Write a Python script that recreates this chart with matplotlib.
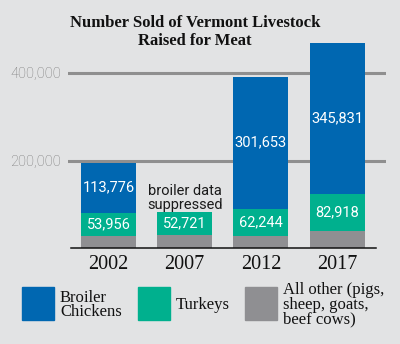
import matplotlib.pyplot as plt
import matplotlib.patches as mpatches
import numpy as np

years = ['2002', '2007', '2012', '2017']
broiler = [113776, 0, 301653, 345831]      # 2007 suppressed
turkeys = [53956, 52721, 62244, 82918]
other = [27000, 30000, 28000, 40000]
yticks = [200000, 400000]

bg = '#e2e3e4'
c_blue = '#0067b1'
c_green = '#00b08e'
c_gray = '#8f8f92'

fig = plt.figure(figsize=(4, 3.44), dpi=100, facecolor=bg)
ax = fig.add_axes([68 / 400, (344 - 248) / 344, (386 - 68) / 400, 210 / 344])
ax.set_facecolor(bg)

x = np.arange(len(years))
w = 0.72
other = np.array(other)
turkeys = np.array(turkeys)
broiler = np.array(broiler)

for yv in yticks:
    ax.axhline(yv, color='#8f8f8f', lw=2.2, zorder=0)
ax.plot([-0.49, 3.51], [0, 0], color='#111111', lw=1.1, zorder=3, clip_on=False)

ax.bar(x, other, w, color=c_gray, zorder=2)
ax.bar(x, turkeys, w, bottom=other, color=c_green, zorder=2)
ax.bar(x, broiler, w, bottom=other + turkeys, color=c_blue, zorder=2)

for i in range(len(years)):
    ax.text(x[i], other[i] + turkeys[i] / 2, f'{turkeys[i]:,}', ha='center', va='center',
            color='white', fontsize=10.5, family='Roboto', zorder=4)
    if broiler[i] > 0:
        ax.text(x[i], other[i] + turkeys[i] + broiler[i] / 2, f'{broiler[i]:,}', ha='center',
                va='center', color='white', fontsize=10.5, family='Roboto', zorder=4)
ax.text(x[1], other[1] + turkeys[1] + 32000, 'broiler data\nsuppressed', ha='center',
        va='center', color='#1a1a1a', fontsize=10.5, family='Roboto', linespacing=1.0)

ax.set_xlim(-0.53, 3.64)
ax.set_ylim(0, 480000)
ax.set_xticks(x)
ax.set_xticklabels(years, family='Liberation Serif', fontsize=14.5, color='#111111')
ax.set_yticks(yticks)
ax.set_yticklabels([f'{v:,}' for v in yticks], family='Roboto', fontsize=10.5,
                   fontweight='light', color='#7a7a7a')
ax.tick_params(length=0, pad=5)
ax.tick_params(axis='x', pad=5)
for s in ax.spines.values():
    s.set_visible(False)

fig.text(0.4875, 1 - 32 / 344, 'Number Sold of Vermont Livestock\nRaised for Meat', ha='center',
         va='center', family='Liberation Serif', weight='bold', fontsize=12, color='#111111',
         linespacing=1.15)

# legend
legend_items = [(c_blue, 'Broiler\nChickens', 22), (c_green, 'Turkeys', 138),
                (c_gray, 'All other (pigs,\nsheep, goats,\nbeef cows)', 245)]
for col, lab, px in legend_items:
    fig.patches.append(mpatches.Rectangle((px / 400, (344 - 320) / 344), 32 / 400, 33 / 344,
                                          transform=fig.transFigure, color=col))
    fig.text((px + 38) / 400, (344 - 305) / 344, lab, ha='left', va='center',
             family='Liberation Serif', fontsize=12, color='#111111', linespacing=0.9)

fig.savefig('out.png', dpi=100, facecolor=bg)
